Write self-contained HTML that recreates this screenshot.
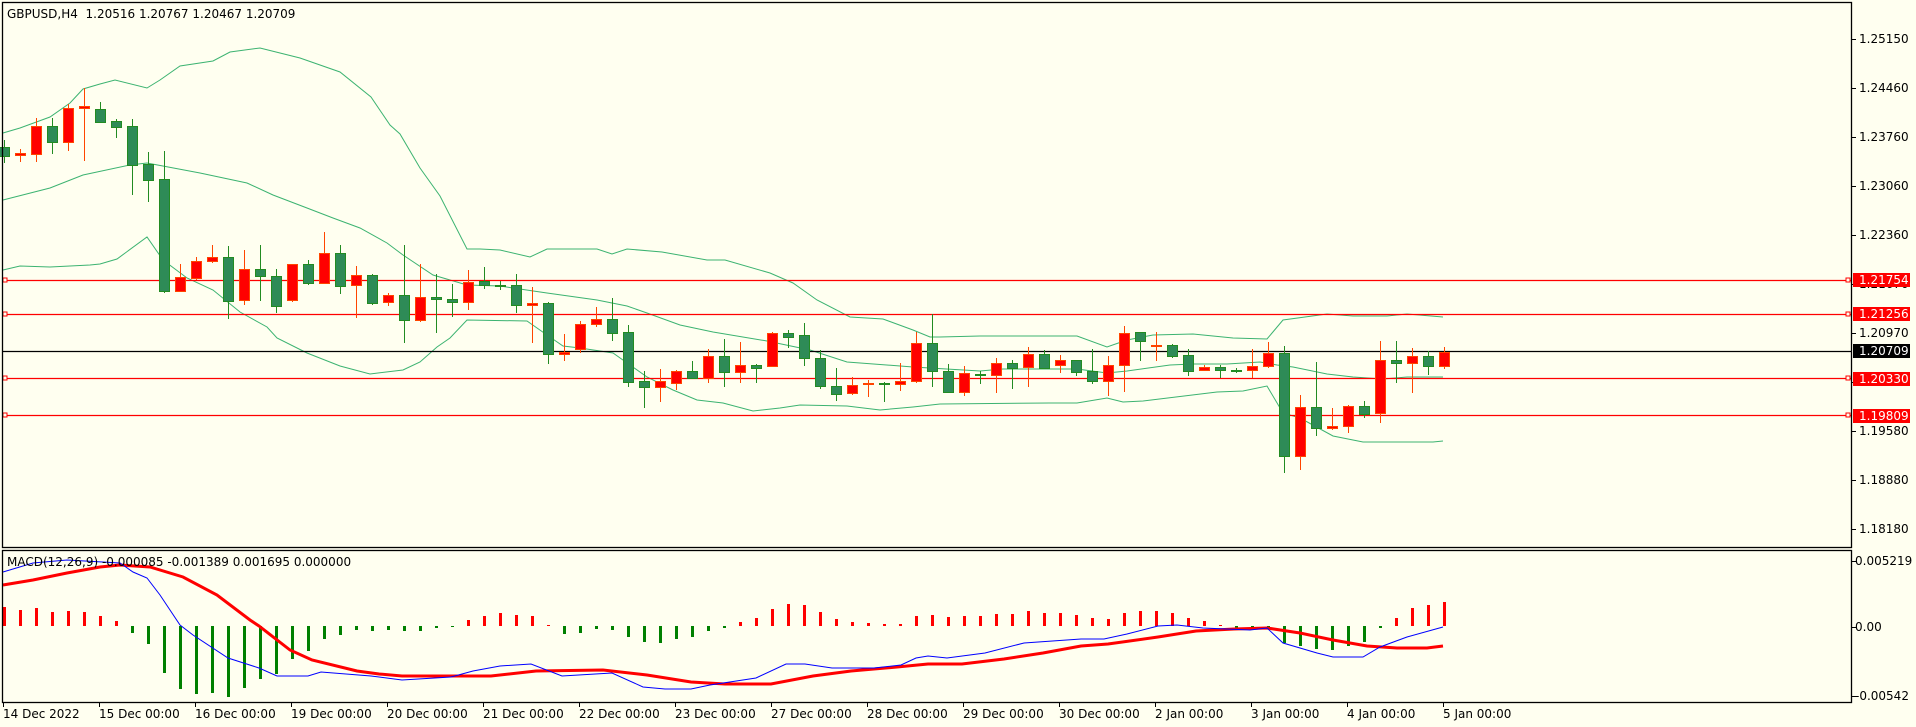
<!DOCTYPE html>
<html><head><meta charset="utf-8">
<style>
html,body{margin:0;padding:0;background:#FFFFF0;}
svg{display:block;font-family:"DejaVu Sans","Liberation Sans",sans-serif;}
</style></head>
<body>
<svg id="c" width="1916" height="727" viewBox="0 0 1916 727" xmlns="http://www.w3.org/2000/svg">
<rect x="0" y="0" width="1916" height="727" fill="#FFFFF0"/>
<g id="bands" fill="none" stroke="#3CB371" stroke-width="1"></g>
<g id="hl"></g>
<g id="candles"></g>
<g id="macd"></g>
<rect x="2.5" y="2.5" width="1849" height="545" fill="none" stroke="#000" stroke-width="1.3"/>
<rect x="2.5" y="550.5" width="1849" height="152" fill="none" stroke="#000" stroke-width="1.3"/>
<g id="ticks" stroke="#000" stroke-width="1"></g>
<text x="7" y="18" font-size="12" fill="#000">GBPUSD,H4 &#160;1.20516 1.20767 1.20467 1.20709</text>
<text x="7" y="566" font-size="12" fill="#000">MACD(12,26,9) -0.000085 -0.001389 0.001695 0.000000</text>
<g font-size="12" fill="#000">
<text x="1859" y="43">1.25150</text>
<text x="1859" y="92">1.24460</text>
<text x="1859" y="141">1.23760</text>
<text x="1859" y="190">1.23060</text>
<text x="1859" y="239">1.22360</text>
<text x="1859" y="288">1.21670</text>
<text x="1859" y="337">1.20970</text>
<text x="1859" y="386">1.20270</text>
<text x="1859" y="435">1.19580</text>
<text x="1859" y="484">1.18880</text>
<text x="1859" y="533">1.18180</text>
<text x="1855" y="565">0.005219</text>
<text x="1855" y="631">0.00</text>
<text x="1855" y="700">-0.00542</text>
</g>
<g font-size="12" fill="#000">
<text x="3" y="718">14 Dec 2022</text>
<text x="99" y="718">15 Dec 00:00</text>
<text x="195" y="718">16 Dec 00:00</text>
<text x="291" y="718">19 Dec 00:00</text>
<text x="387" y="718">20 Dec 00:00</text>
<text x="483" y="718">21 Dec 00:00</text>
<text x="579" y="718">22 Dec 00:00</text>
<text x="675" y="718">23 Dec 00:00</text>
<text x="771" y="718">27 Dec 00:00</text>
<text x="867" y="718">28 Dec 00:00</text>
<text x="963" y="718">29 Dec 00:00</text>
<text x="1059" y="718">30 Dec 00:00</text>
<text x="1155" y="718">2 Jan 00:00</text>
<text x="1251" y="718">3 Jan 00:00</text>
<text x="1347" y="718">4 Jan 00:00</text>
<text x="1443" y="718">5 Jan 00:00</text>
</g>
<g fill="#fff" font-size="12">
<rect x="1853" y="273" width="57" height="14" fill="#FF0000"/><text x="1859" y="284">1.21754</text>
<rect x="1853" y="307" width="57" height="14" fill="#FF0000"/><text x="1859" y="318">1.21256</text>
<rect x="1853" y="344" width="57" height="14" fill="#000"/><text x="1859" y="355">1.20709</text>
<rect x="1853" y="372" width="57" height="14" fill="#FF0000"/><text x="1859" y="383">1.20330</text>
<rect x="1853" y="409" width="57" height="14" fill="#FF0000"/><text x="1859" y="420">1.19809</text>
</g>
</svg>
<script>
var NS="http://www.w3.org/2000/svg";
function el(p,t,a){var e=document.createElementNS(NS,t);for(var k in a)e.setAttribute(k,a[k]);document.getElementById(p).appendChild(e);return e;}
function X(i){return 3.5+16*i;}
var up=[[3,133],[20,128],[50,117],[70,103],[83,89],[100,84],[115,80],[147,88],[160,80],[180,66],[213,61],[230,52],[260,48],[280,53],[300,58],[340,72],[371,97],[390,125],[400,134],[420,168],[440,196],[467,249],[480,249],[500,250],[530,257],[547,249],[597,249],[612,254],[627,249],[662,252],[707,260],[725,260],[770,273],[793,283],[817,300],[850,317],[883,319],[913,330],[930,337],[940,337],[980,336],[1003,336],[1077,336],[1107,347],[1127,340],[1153,335],[1193,334],[1233,338],[1267,339],[1283,320],[1327,314],[1353,316],[1387,316],[1407,314],[1443,317]];
var mid=[[3,200],[50,188],[83,175],[130,165],[147,163],[200,173],[247,183],[273,195],[307,208],[333,218],[360,228],[387,243],[403,255],[433,275],[467,285],[500,286],[513,288],[547,293],[597,300],[627,306],[647,313],[680,325],[713,332],[767,341],[810,350],[847,362],[913,367],[980,371],[1003,369],[1077,369],[1107,373],[1127,371],[1170,365],[1193,364],[1227,364],[1260,362],[1277,365],[1293,367],[1327,374],[1353,377],[1383,379],[1407,377],[1443,377]];
var lo=[[3,270],[20,266],[50,267],[90,265],[100,264],[117,259],[147,237],[163,260],[187,278],[213,290],[240,312],[267,327],[277,338],[307,353],[340,366],[370,374],[403,370],[420,362],[437,347],[450,338],[467,320],[527,321],[547,335],[563,346],[580,348],[600,351],[613,353],[630,365],[647,377],[673,390],[697,400],[723,403],[753,411],[780,408],[800,405],[847,406],[880,410],[913,407],[940,404],[1050,403],[1077,403],[1107,398],[1123,402],[1143,401],[1217,392],[1243,391],[1267,386],[1283,413],[1300,418],[1333,436],[1363,442],[1433,442],[1443,441]];
[up,mid,lo].forEach(function(a){el("bands","polyline",{points:a.map(function(p){return p.join(",")}).join(" ")});});
[[280,"#FF0000"],[314,"#FF0000"],[378,"#FF0000"],[415,"#FF0000"]].forEach(function(h){
 el("hl","line",{x1:2,x2:1852,y1:h[0]+.5,y2:h[0]+.5,stroke:h[1],"stroke-width":1.3});
 el("hl","rect",{x:3,y:h[0]-2,width:4,height:4,fill:"#FFFFF0",stroke:"#FF0000","stroke-width":1});
 el("hl","rect",{x:1846,y:h[0]-2,width:4,height:4,fill:"#FFFFF0",stroke:"#FF0000","stroke-width":1});
});
el("hl","line",{x1:2,x2:1852,y1:351.5,y2:351.5,stroke:"#000","stroke-width":1.3});
var C=[["g",147,156,140,163],["r",153,155,149,162],["r",126,154,118,162],["g",126,142,118,154],["r",108,142,104,151],["r",106,108,88,161],["g",109,122,102,123],["g",121,127,119,138],["g",126,165,119,195],["g",164,180,152,202],
["g",179,291,151,293],["r",277,291,264,292],["r",261,278,257,280],["r",257,261,245,263],["g",257,301,246,319],["r",269,300,250,305],["g",269,276,245,301],["g",276,306,269,313],["r",264,300,264,302],["g",264,283,260,285],
["r",253,283,232,283],["g",253,286,245,294],["r",275,285,266,318],["g",275,303,274,305],["r",295,302,293,306],["g",295,320,245,343],["r",297,320,264,322],["g",297,299,274,333],["g",299,302,284,317],["r",282,302,270,310],
["g",281,285,267,289],["g",285,286,281,290],["g",285,305,274,313],["r",303,305,287,343],["g",303,354,302,364],["r",352,354,334,361],["r",324,349,321,353],["r",319,324,307,327],["g",319,333,298,341],["g",332,382,325,387],
["g",381,387,371,408],["r",381,387,369,402],["r",371,383,370,390],["g",371,378,361,378],["r",356,378,349,383],["g",356,372,339,387],["r",365,372,342,383],["g",365,368,364,383],["r",333,366,332,367],["g",333,337,330,348],
["g",335,358,323,366],["g",358,386,350,389],["g",386,394,368,401],["r",385,393,377,395],["r",383,384,380,397],["g",383,384,382,402],["r",381,384,363,391],["r",343,381,332,383],["g",343,371,314,387],["g",371,392,364,392],
["r",373,392,366,396],["g",374,375,371,384],["r",363,375,358,393],["g",363,368,360,389],["r",354,367,347,387],["g",354,368,350,369],["r",360,365,355,373],["g",360,372,360,376],["g",371,381,349,384],["r",365,381,356,396],
["r",333,365,326,392],["g",332,341,332,361],["r",345,346,332,361],["g",345,356,344,358],["g",355,371,349,376],["r",367,370,365,370],["g",367,370,365,378],["g",370,371,368,373],["r",366,370,349,378],["r",353,366,342,368],
["g",353,456,346,473],["r",407,456,395,470],["g",407,428,362,436],["r",426,428,408,430],["r",406,426,405,433],["g",406,414,401,418],["r",360,413,341,423],["g",360,363,341,383],["r",356,363,348,393],["g",356,366,351,375],["r",352,366,347,369]];
C.forEach(function(c,i){var x=Math.round(X(i));var g=c[0]=="g";
 var wc=g?"#228B22":"#FF4500",fc=g?"#2E8B57":"#FF0000";
 el("candles","line",{x1:x+.5,x2:x+.5,y1:c[3],y2:c[4],stroke:wc,"stroke-width":1});
 var h=Math.max(c[2]-c[1],1);
 el("candles","rect",{x:x-4.5,y:c[1]+.5,width:10,height:h,fill:fc,stroke:wc,"stroke-width":1});
});
var H=[607,610,608,612,611,612,616,621,633,644,673,689,694,693,697,688,679,674,659,651,639,635,630,631,630,631,631,628,627,620,616,613,615,616,625,634,633,629,630,637,642,643,639,637,631,628,622,618,609,604,605,612,619,622,623,624,624,616,615,617,616,616,614,614,611,613,613,615,618,619,613,611,611,613,618,621,625,628,629,628,643,646,649,650,646,642,628,618,608,605,602];
H.forEach(function(v,i){var x=Math.round(X(i))+.5;
 el("macd","line",{x1:x,x2:x,y1:626,y2:v==626?627:v,stroke:v<626?"#FF0000":"#008000","stroke-width":3});});
var sig=[[3,585],[33,580],[67,573],[100,567],[120,565],[150,567],[183,577],[217,595],[250,620],[259,626],[290,650],[312,660],[357,671],[379,674],[402,676],[491,676],[536,671],[603,670],[647,675],[691,682],[725,684],[771,684],[813,676],[851,671],[897,667],[928,664],[962,664],[1004,659],[1043,653],[1081,646],[1108,644],[1158,637],[1196,631],[1234,629],[1267,628],[1300,633],[1333,640],[1367,646],[1397,648],[1427,648],[1443,646]];
var mn=[[3,572],[33,563],[67,560],[120,563],[133,572],[147,578],[160,595],[180,625],[193,635],[228,658],[259,668],[277,676],[308,676],[321,672],[371,676],[402,680],[451,677],[473,671],[500,666],[531,664],[562,676],[612,673],[643,687],[665,689],[691,689],[710,685],[756,678],[786,664],[805,664],[832,668],[874,668],[901,665],[916,658],[928,656],[947,658],[985,653],[1024,643],[1081,639],[1104,639],[1127,634],[1158,626],[1177,625],[1203,628],[1250,630],[1267,628],[1283,643],[1317,653],[1333,657],[1363,657],[1380,647],[1407,637],[1443,627]];
el("macd","polyline",{points:sig.map(function(p){return p.join(",")}).join(" "),fill:"none",stroke:"#FF0000","stroke-width":3});
el("macd","polyline",{points:mn.map(function(p){return p.join(",")}).join(" "),fill:"none",stroke:"#0000FF","stroke-width":1});
[39,88,137,186,235,284,333,382,431,480,529,561,627,696].forEach(function(y){el("ticks","line",{x1:1852,x2:1856,y1:y+.5,y2:y+.5});});
for(var d=0;d<16;d++){var x=3+96*d+.5;el("ticks","line",{x1:x,x2:x,y1:703,y2:707});}
</script>
</body></html>
